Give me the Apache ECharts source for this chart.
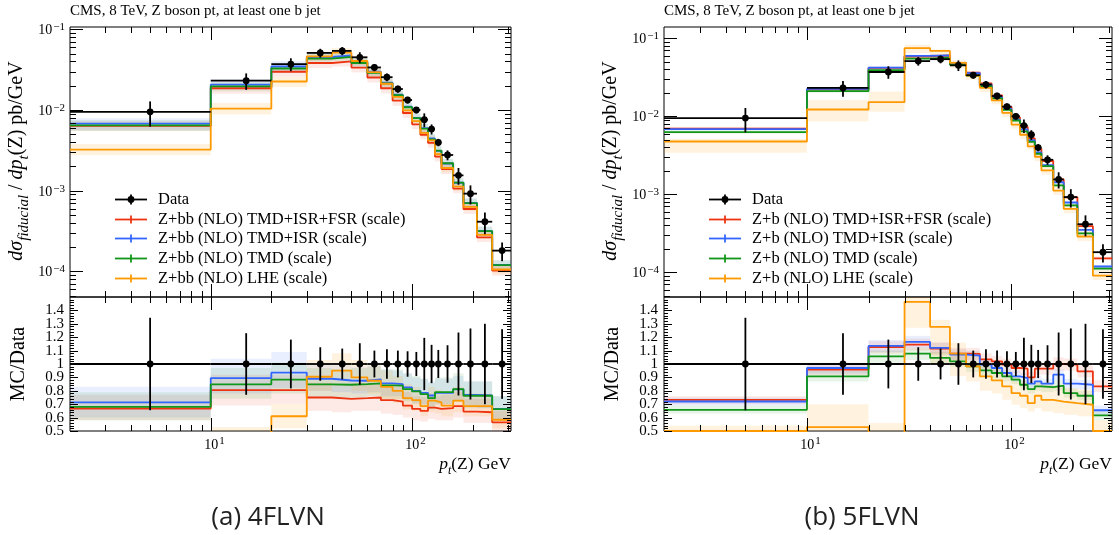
<!DOCTYPE html>
<html><head><meta charset="utf-8">
<script src="https://cdn.jsdelivr.net/npm/echarts@6/dist/echarts.min.js"></script>
<style>html,body{margin:0;padding:0;background:#fff}#c{width:1119px;height:535px}</style>
</head><body><div id="c"></div>
<script>
// ---------- data ----------
const binEdges   = [0,10,20,30,40,50,60,70,80,90,100,110,120,130,140,160,180,210,250,310];
const binCenters = [5,15,25,35,45,55,65,75,85,95,105,115,125,135,150,170,195,230,280];
const dataValues = [0.0095,0.0231,0.037,0.051,0.054,0.045,0.0337,0.0255,0.0182,0.0133,0.0100,0.0076,0.0058,0.00397,0.00277,0.00155,0.00092,0.000413,0.000181];
const dataRelErr = [0.345,0.23,0.182,0.125,0.115,0.155,0.10,0.11,0.10,0.095,0.09,0.195,0.143,0.105,0.14,0.235,0.265,0.30,0.26];

// 4FLVN (Z+bb) : MC / Data
const ratioRed4    = [0.668,0.805,0.805,0.75,0.74,0.745,0.75,0.73,0.72,0.69,0.665,0.65,0.675,0.665,0.67,0.686,0.645,0.64,0.565];
const ratioBlue4   = [0.713,0.895,0.935,0.89,0.877,0.875,0.885,0.855,0.85,0.825,0.80,0.785,0.765,0.785,0.785,0.81,0.77,0.765,0.665];
const ratioGreen4  = [0.68,0.848,0.883,0.848,0.845,0.85,0.855,0.84,0.838,0.813,0.795,0.775,0.745,0.79,0.79,0.813,0.763,0.763,0.663];
const ratioOrange4 = [0.34,0.45,0.61,0.905,0.95,0.90,0.875,0.83,0.80,0.745,0.73,0.686,0.726,0.713,0.69,0.726,0.686,0.686,0.584];
const bandRedLo4    = [0.58,0.69,0.70,0.65,0.64,0.65,0.65,0.63,0.62,0.60,0.58,0.57,0.59,0.58,0.58,0.60,0.56,0.56,0.49];
const bandRedHi4    = [0.77,0.92,0.92,0.86,0.85,0.86,0.86,0.84,0.83,0.79,0.76,0.75,0.78,0.76,0.77,0.79,0.74,0.74,0.65];
const bandBlueLo4   = [0.60,0.78,0.82,0.80,0.79,0.78,0.79,0.76,0.76,0.73,0.71,0.70,0.68,0.70,0.70,0.72,0.68,0.67,0.58];
const bandBlueHi4   = [0.83,1.04,1.09,1.00,0.99,0.98,0.99,0.96,0.95,0.93,0.90,0.89,0.87,0.89,0.89,0.91,0.87,0.87,0.76];
const bandGreenLo4  = [0.58,0.74,0.78,0.75,0.75,0.75,0.76,0.74,0.74,0.72,0.70,0.69,0.66,0.70,0.70,0.72,0.67,0.67,0.58];
const bandGreenHi4  = [0.79,0.97,1.01,0.97,0.96,0.97,0.98,0.96,0.96,0.93,0.91,0.89,0.86,0.90,0.90,0.93,0.87,0.87,0.76];
const bandOrangeLo4 = [0.29,0.38,0.52,0.80,0.84,0.80,0.78,0.74,0.71,0.66,0.65,0.61,0.64,0.63,0.61,0.64,0.61,0.61,0.52];
const bandOrangeHi4 = [0.40,0.53,0.70,1.03,1.08,1.03,1.00,0.95,0.91,0.85,0.83,0.78,0.83,0.81,0.79,0.83,0.78,0.78,0.67];

// 5FLVN (Z+b) : MC / Data
const ratioRed5    = [0.733,0.958,1.127,1.145,1.115,1.077,1.075,1.035,1.02,0.995,0.97,0.965,0.90,0.965,0.965,1.0,0.995,0.945,0.833];
const ratioBlue5   = [0.72,0.97,1.135,1.165,1.12,1.07,1.062,0.995,0.97,0.933,0.908,0.895,0.853,0.87,0.853,0.92,0.853,0.845,0.655];
const ratioGreen5  = [0.658,0.908,1.057,1.077,1.045,1.02,0.983,0.953,0.933,0.908,0.883,0.845,0.813,0.833,0.828,0.838,0.783,0.763,0.616];
const ratioOrange5 = [0.50,0.529,0.41,1.464,1.277,1.077,0.983,0.908,0.878,0.833,0.783,0.763,0.708,0.763,0.733,0.72,0.708,0.696,0.50];
const bandRedLo5    = [0.70,0.92,1.08,1.10,1.07,1.03,1.03,0.99,0.98,0.95,0.93,0.92,0.86,0.92,0.92,0.95,0.95,0.90,0.79];
const bandRedHi5    = [0.76,0.99,1.17,1.19,1.16,1.12,1.12,1.08,1.06,1.04,1.01,1.01,0.94,1.01,1.01,1.05,1.04,0.99,0.88];
const bandBlueLo5   = [0.69,0.93,1.09,1.12,1.08,1.03,1.02,0.96,0.93,0.90,0.87,0.86,0.82,0.83,0.82,0.88,0.82,0.81,0.62];
const bandBlueHi5   = [0.75,1.01,1.18,1.21,1.16,1.11,1.10,1.03,1.01,0.97,0.95,0.93,0.89,0.91,0.89,0.96,0.89,0.88,0.69];
const bandGreenLo5  = [0.63,0.87,1.01,1.03,1.00,0.98,0.94,0.91,0.89,0.87,0.85,0.81,0.78,0.80,0.79,0.80,0.75,0.73,0.58];
const bandGreenHi5  = [0.69,0.95,1.10,1.12,1.09,1.06,1.02,0.99,0.97,0.95,0.92,0.88,0.85,0.87,0.86,0.88,0.82,0.80,0.65];
const bandOrangeLo5 = [0.36,0.37,0.31,1.27,1.00,0.91,0.87,0.80,0.78,0.733,0.696,0.67,0.645,0.67,0.645,0.633,0.62,0.61,0.44];
const bandOrangeHi5 = [0.54,0.70,0.56,1.62,1.33,1.16,1.095,1.02,0.983,0.945,0.908,0.87,0.82,0.87,0.845,0.833,0.82,0.81,0.58];

const legend4 = ['Data','Z+bb (NLO) TMD+ISR+FSR (scale)','Z+bb (NLO) TMD+ISR (scale)','Z+bb (NLO) TMD (scale)','Z+bb (NLO) LHE (scale)'];
const legend5 = ['Data','Z+b (NLO) TMD+ISR+FSR (scale)','Z+b (NLO) TMD+ISR (scale)','Z+b (NLO) TMD (scale)','Z+b (NLO) LHE (scale)'];
const plotTitle = 'CMS, 8 TeV, Z boson pt, at least one b jet';
const captions = ['(a) 4FLVN','(b) 5FLVN'];

// tick labels
const xLabelTicks = [10,100];
const xLabelExps  = ['1','2'];
const xMinorTicks = [3,4,5,6,7,8,9,20,30,40,50,60,70,80,90,200,300];
const yMainLabelTicks = [1e-4,1e-3,1e-2,1e-1];
const yMainLabelExps  = ['\u22124','\u22123','\u22122','\u22121'];
const ratioLabelTicks = [0.5,0.6,0.7,0.8,0.9,1.0,1.1,1.2,1.3,1.4];
const ratioLabels     = ['0.5','0.6','0.7','0.8','0.9','1','1.1','1.2','1.3','1.4'];

// ---------- layout / style ----------
const X_MIN = 2, X_MAX = 310;
const Y_MAIN_MIN = 4.82e-5;
const Y_MAIN_MAX = [0.1068, 0.1396];
const F = "'Liberation Serif','DejaVu Serif',serif";
const COL = {red:'#EE3311', blue:'#3366FF', green:'#109618', orange:'#FF9900'};
const BAND = {red:'rgba(238,51,17,0.10)', blue:'rgba(51,102,255,0.10)', green:'rgba(16,150,24,0.10)', orange:'rgba(255,153,0,0.12)'};
const ORDER = ['red','blue','green','orange'];
const GEOM = [{left:70,width:441},{left:664,width:448}];
const MAIN_TOP = 27, MAIN_H = 270, RAT_TOP = 297, RAT_H = 134;
const LW = 1.8;

const panels = [
  {ratio:{red:ratioRed4,blue:ratioBlue4,green:ratioGreen4,orange:ratioOrange4},
   lo:{red:bandRedLo4,blue:bandBlueLo4,green:bandGreenLo4,orange:bandOrangeLo4},
   hi:{red:bandRedHi4,blue:bandBlueHi4,green:bandGreenHi4,orange:bandOrangeHi4}, legend:legend4},
  {ratio:{red:ratioRed5,blue:ratioBlue5,green:ratioGreen5,orange:ratioOrange5},
   lo:{red:bandRedLo5,blue:bandBlueLo5,green:bandGreenLo5,orange:bandOrangeLo5},
   hi:{red:bandRedHi5,blue:bandBlueHi5,green:bandGreenHi5,orange:bandOrangeHi5}, legend:legend5}
];

function stepData(vals){
  const d = vals.map((v,i)=>[Math.max(binEdges[i],X_MIN), v]);
  d.push([binEdges[binEdges.length-1], vals[vals.length-1]]);
  return d;
}

function bandSeries(gi, lo, hi, fill){
  return {
    type:'custom', xAxisIndex:gi, yAxisIndex:gi, silent:true, z:1, clip:true,
    data: lo.map((l,i)=>[binCenters[i], l, hi[i], binEdges[i], binEdges[i+1]]),
    renderItem(params, api){
      const x0 = Math.max(api.value(3), X_MIN);
      const a = api.coord([x0, api.value(1)]);
      const b = api.coord([api.value(4), api.value(2)]);
      const r = echarts.graphic.clipRectByRect(
        {x:a[0], y:Math.min(a[1],b[1]), width:b[0]-a[0], height:Math.abs(b[1]-a[1])}, params.coordSys);
      if(!r) return null;
      return {type:'rect', shape:r, style:{fill:fill}};
    }
  };
}

function lineSeries(gi, vals, color){
  return {type:'line', xAxisIndex:gi, yAxisIndex:gi, step:'end', symbol:'none', silent:true, z:3, clip:true,
    data: stepData(vals), lineStyle:{color:color, width:LW}};
}

function dataSeries(gi, vals){
  return {
    type:'custom', xAxisIndex:gi, yAxisIndex:gi, silent:true, z:5,
    data: vals.map((v,i)=>[binCenters[i], v, v*(1-dataRelErr[i]), v*(1+dataRelErr[i]), binEdges[i], binEdges[i+1]]),
    renderItem(params, api){
      const xc = api.value(0), v = api.value(1);
      const p  = api.coord([xc, v]);
      const pl = api.coord([xc, api.value(2)]);
      const ph = api.coord([xc, api.value(3)]);
      const p0 = api.coord([Math.max(api.value(4),X_MIN), v]);
      const p1 = api.coord([api.value(5), v]);
      const st = {stroke:'#000', lineWidth:LW};
      return {type:'group', children:[
        {type:'line', shape:{x1:p0[0],y1:p0[1],x2:p1[0],y2:p1[1]}, style:st},
        {type:'line', shape:{x1:pl[0],y1:pl[1],x2:ph[0],y2:ph[1]}, style:st},
        {type:'circle', shape:{cx:p[0],cy:p[1],r:3.4}, style:{fill:'#000'}}
      ]};
    }
  };
}

const RICH_EXP = {b:{fontFamily:F,fontSize:14,lineHeight:16,verticalAlign:'bottom',fill:'#000'},
                  p:{fontFamily:F,fontSize:11,lineHeight:11,verticalAlign:'top',padding:[0,0,6,1],fill:'#000'}};

function tickSeries(gi, yRefVal, ticks){
  return {
    type:'custom', xAxisIndex:gi, yAxisIndex:gi, silent:true, z:10, clip:false,
    data: ticks.map(()=>[X_MIN*2, yRefVal]),
    renderItem(params, api){
      const t = ticks[params.dataIndex];
      const cs = params.coordSys;
      const st = {stroke:'#000', lineWidth:1};
      const ch = [];
      if(t.axis==='x'){
        const px = Math.round(api.coord([t.v, yRefVal])[0]) + 0.5;
        const yb = cs.y + cs.height, yt = cs.y;
        ch.push({type:'line', shape:{x1:px,y1:yb,x2:px,y2:yb-t.len}, style:st});
        ch.push({type:'line', shape:{x1:px,y1:yt,x2:px,y2:yt+t.len}, style:st});
        if(t.exp){
          ch.push({type:'text', x:px+3, y:yb+5, style:{
            text:'{b|10}{p|'+t.exp+'}', align:'center', verticalAlign:'top', fill:'#000', rich:RICH_EXP}});
        }
      } else {
        const py = Math.round(api.coord([X_MIN*2, t.v])[1]) + 0.5;
        const xl = cs.x, xr = cs.x + cs.width;
        ch.push({type:'line', shape:{x1:xl,y1:py,x2:xl+t.len,y2:py}, style:st});
        ch.push({type:'line', shape:{x1:xr,y1:py,x2:xr-t.len,y2:py}, style:st});
        if(t.exp){
          ch.push({type:'text', x:xl-5, y:py, style:{
            text:'{b|10}{p|'+t.exp+'}', align:'right', verticalAlign:'middle', fill:'#000', rich:RICH_EXP}});
        } else if(t.label){
          ch.push({type:'text', x:xl-6, y:py, style:{text:t.label, align:'right', verticalAlign:'middle',
            fill:'#000', font:'15px '+F}});
        }
      }
      return {type:'group', children:ch};
    }
  };
}

// tick descriptor lists
function xTicks(withLabels){
  const a = xLabelTicks.map((v,i)=>({axis:'x', v:v, len:13, exp: withLabels ? xLabelExps[i] : null}));
  xMinorTicks.forEach(v=>a.push({axis:'x', v:v, len:6}));
  return a;
}
function yMainTicks(ymax){
  const a = yMainLabelTicks.map((v,i)=>({axis:'y', v:v, len:13, exp:yMainLabelExps[i]}));
  for(let d=-5; d<=-1; d++){
    for(let k=2; k<=9; k++){
      const v = k*Math.pow(10,d);
      if(v>Y_MAIN_MIN && v<ymax) a.push({axis:'y', v:v, len:6});
    }
  }
  return a;
}
function yRatioTicks(){
  const a = ratioLabelTicks.map((v,i)=>({axis:'y', v:v, len:8, label:ratioLabels[i]}));
  for(let k=0; k<=50; k++){
    const v = 0.5 + k*0.02;
    if(k%5!==0 && v<1.5) a.push({axis:'y', v:v, len:4});
  }
  return a;
}

const grids=[], xAxes=[], yAxes=[], series=[], graphics=[];
panels.forEach((p, pi)=>{
  const g = GEOM[pi];
  const mi = pi*2, ri = pi*2+1;
  const gridBase = {show:true, borderColor:'#000', borderWidth:1, backgroundColor:'transparent', outerBoundsMode:'none', containLabel:false};
  grids.push(Object.assign({left:g.left, top:MAIN_TOP, width:g.width, height:MAIN_H}, gridBase));
  grids.push(Object.assign({left:g.left, top:RAT_TOP, width:g.width, height:RAT_H}, gridBase));
  [mi, ri].forEach(gi=>xAxes.push({type:'log', logBase:10, min:X_MIN, max:X_MAX, gridIndex:gi,
    axisLine:{show:false}, axisTick:{show:false}, axisLabel:{show:false}, splitLine:{show:false}}));
  yAxes.push({type:'log', logBase:10, min:Y_MAIN_MIN, max:Y_MAIN_MAX[pi], gridIndex:mi,
    axisLine:{show:false}, axisTick:{show:false}, axisLabel:{show:false}, splitLine:{show:false}});
  yAxes.push({type:'value', min:0.5, max:1.5, gridIndex:ri,
    axisLine:{show:false}, axisTick:{show:false}, axisLabel:{show:false}, splitLine:{show:false}});

  // bands
  ORDER.forEach(c=>{
    series.push(bandSeries(mi, p.lo[c].map((v,i)=>v*dataValues[i]), p.hi[c].map((v,i)=>v*dataValues[i]), BAND[c]));
    series.push(bandSeries(ri, p.lo[c], p.hi[c], BAND[c]));
  });
  // MC lines
  ORDER.forEach(c=>{
    series.push(lineSeries(mi, p.ratio[c].map((v,i)=>v*dataValues[i]), COL[c]));
    series.push(lineSeries(ri, p.ratio[c], COL[c]));
  });
  // data
  series.push(dataSeries(mi, dataValues));
  series.push(dataSeries(ri, dataValues.map(v=>v/v)));
  // ticks
  series.push(tickSeries(mi, 1e-3, xTicks(false).concat(yMainTicks(Y_MAIN_MAX[pi]))));
  series.push(tickSeries(ri, 1.0, xTicks(true).concat(yRatioTicks())));

  // texts
  const dx = pi===0 ? 0 : 594;
  graphics.push({type:'text', x:g.left, y:11, style:{text:plotTitle, font:'15px '+F, fill:'#000', align:'left', verticalAlign:'middle'}});
  graphics.push({type:'text', x:19+dx, y:161, rotation:Math.PI/2, style:{
    text:'{i|d\u03c3}{s|fiducial}{n| / }{i|dp}{s|t}{n|(Z) pb/GeV}', align:'center', verticalAlign:'middle', fill:'#000',
    rich:{i:{fontFamily:F,fontStyle:'italic',fontSize:20,lineHeight:25,verticalAlign:'top',fill:'#000'},
          n:{fontFamily:F,fontSize:20,lineHeight:25,verticalAlign:'top',fill:'#000'},
          s:{fontFamily:F,fontStyle:'italic',fontSize:15,lineHeight:15,verticalAlign:'bottom',fill:'#000'}}}});
  graphics.push({type:'text', x:19+dx, y:364, rotation:Math.PI/2, style:{text:'MC/Data', font:'20px '+F, fill:'#000', align:'center', verticalAlign:'middle'}});
  graphics.push({type:'text', x:g.left+g.width, y:466, style:{
    text:'{i|p}{s|t}{n|(Z) GeV}', align:'right', verticalAlign:'middle', fill:'#000',
    rich:{i:{fontFamily:F,fontStyle:'italic',fontSize:17.5,lineHeight:21,verticalAlign:'top',fill:'#000'},
          n:{fontFamily:F,fontSize:17.5,lineHeight:21,verticalAlign:'top',fill:'#000'},
          s:{fontFamily:F,fontStyle:'italic',fontSize:12,lineHeight:12,verticalAlign:'bottom',fill:'#000'}}}});
  graphics.push({type:'text', x:268+dx, y:518, style:{text:captions[pi], font:'26px "Open Sans"', fill:'#222', align:'center', verticalAlign:'middle'}});

  // legend
  const lx0 = 115+dx, lx1 = 147+dx, lxc = 131+dx, tx = 158+dx;
  const ly = [199, 218.5, 238, 258, 277.5];
  const lcol = ['#000', COL.red, COL.blue, COL.green, COL.orange];
  p.legend.forEach((lab, k)=>{
    const y = Math.round(ly[k]) + 0.5;
    graphics.push({type:'line', shape:{x1:lx0,y1:y,x2:lx1,y2:y}, style:{stroke:lcol[k], lineWidth:LW}});
    graphics.push({type:'line', shape:{x1:lxc,y1:y-(k===0?5:4),x2:lxc,y2:y+(k===0?5:4)}, style:{stroke:lcol[k], lineWidth:LW}});
    if(k===0) graphics.push({type:'circle', shape:{cx:lxc, cy:y, r:3.4}, style:{fill:'#000'}});
    graphics.push({type:'text', x:tx, y:y, style:{text:lab, font:'16.5px '+F, fill:'#000', align:'left', verticalAlign:'middle'}});
  });
});

const chart = echarts.init(document.getElementById('c'), null, {renderer:'canvas'});
chart.setOption({
  animation:false, backgroundColor:'#fff',
  grid:grids, xAxis:xAxes, yAxis:yAxes, series:series, graphic:graphics
});
</script>
</body></html>
